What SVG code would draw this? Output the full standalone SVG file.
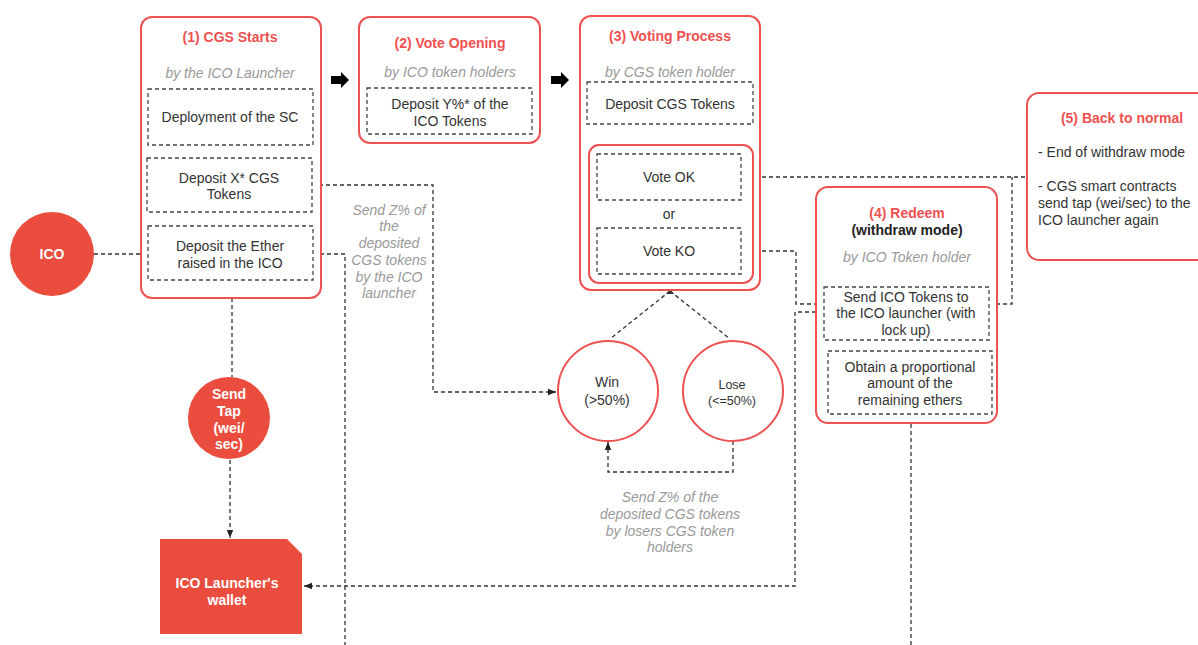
<svg xmlns="http://www.w3.org/2000/svg" width="1198" height="645" viewBox="0 0 1198 645">
<defs>
<marker id="ah" viewBox="0 0 10 10" refX="10" refY="5" markerWidth="8" markerHeight="8" markerUnits="userSpaceOnUse" orient="auto"><path d="M0,1 L10,5 L0,9 z" fill="#222"/></marker>
<style>
text{font-family:"Liberation Sans",Arial,sans-serif;font-size:14px;text-anchor:middle;fill:#333}
.frame{fill:#fff;stroke:#ef5050;stroke-width:2}
.dbox{fill:none;stroke:#444;stroke-width:1.3;stroke-dasharray:4,3}
.title{font-weight:bold;fill:#ef5050}
.sub{font-style:italic;fill:#999}
.wt{font-weight:bold;fill:#fff}
.conn{fill:none;stroke:#333;stroke-width:1.3;stroke-dasharray:4,3}
.red{fill:#ea4c3e}
.bl{text-anchor:start}
</style>
</defs>
<rect width="1198" height="645" fill="#fff"/>

<g id="connectors">
<path class="conn" d="M94,254 H148"/>
<path class="conn" d="M312,185 H433 V392 H556" marker-end="url(#ah)"/>
<path class="conn" d="M313,254 H345 V645"/>
<path class="conn" d="M232,298 V377"/>
<path class="conn" d="M230,460 V538" marker-end="url(#ah)"/>
<path class="conn" d="M670,291 L610,339"/>
<path class="conn" d="M670,291 L730,339"/>
<path class="conn" d="M733,441 V472 H608 V442" marker-end="url(#ah)"/>
<path class="conn" d="M741,177 H1027"/>
<path class="conn" d="M989,304 H1012 V177"/>
<path class="conn" d="M741,251 H796 V304 H823"/>
<path class="conn" d="M823,312 H795 V586 H304" marker-end="url(#ah)"/>
<path class="conn" d="M911,645 V415" marker-end="url(#ah)"/>
<polygon points="666,294 670,289 674,294" fill="#333"/>
<polygon points="331,76 341,76 341,72 349,80 341,88 341,84 331,84" fill="#000"/>
<polygon points="551,76 561,76 561,72 569,80 561,88 561,84 551,84" fill="#000"/>
</g>

<g id="ico">
<circle class="red" cx="52" cy="254" r="42"/>
<text class="wt" x="52" y="259">ICO</text>
</g>

<g id="step1">
<rect class="frame" x="141" y="17" width="180" height="281" rx="11"/>
<text class="title" x="230" y="42">(1) CGS Starts</text>
<text class="sub" x="230" y="78">by the ICO Launcher</text>
<rect class="dbox" x="148" y="89" width="165" height="56"/>
<text x="230" y="122">Deployment of the SC</text>
<rect class="dbox" x="147" y="158" width="165" height="54"/>
<text x="229" y="183">Deposit X* CGS</text>
<text x="229" y="199">Tokens</text>
<rect class="dbox" x="148" y="226" width="165" height="54"/>
<text x="230" y="251">Deposit the Ether</text>
<text x="230" y="268">raised in the ICO</text>
</g>

<g id="step2">
<rect class="frame" x="359" y="17" width="181" height="126" rx="11"/>
<text class="title" x="450" y="48">(2) Vote Opening</text>
<text class="sub" x="450" y="77">by ICO token holders</text>
<rect class="dbox" x="367" y="88" width="165" height="46"/>
<text x="450" y="109">Deposit Y%* of the</text>
<text x="450" y="126">ICO Tokens</text>
</g>

<g id="step3">
<rect class="frame" x="580" y="16" width="180" height="274" rx="11"/>
<text class="title" x="670" y="41">(3) Voting Process</text>
<text class="sub" x="670" y="77">by CGS token holder</text>
<rect class="dbox" x="587" y="82" width="166" height="42"/>
<text x="670" y="109">Deposit CGS Tokens</text>
<rect class="frame" x="589" y="145" width="164" height="138" rx="10"/>
<rect class="dbox" x="597" y="154" width="144" height="46"/>
<text x="669" y="182">Vote OK</text>
<text x="669" y="219">or</text>
<rect class="dbox" x="597" y="228" width="144" height="46"/>
<text x="669" y="256">Vote KO</text>
</g>

<g id="win">
<circle cx="608" cy="391" r="50" fill="#fff" stroke="#ef5050" stroke-width="2"/>
<text x="607" y="387">Win</text>
<text x="607" y="405">(&gt;50%)</text>
</g>
<g id="lose">
<circle cx="733" cy="391" r="50" fill="#fff" stroke="#ef5050" stroke-width="2"/>
<text x="732" y="389" style="font-size:12.5px">Lose</text>
<text x="732" y="405" style="font-size:12.5px">(&lt;=50%)</text>
</g>

<g id="label-z1">
<text class="sub" x="389" y="215">Send Z% of</text>
<text class="sub" x="389" y="231">the</text>
<text class="sub" x="389" y="248">deposited</text>
<text class="sub" x="389" y="265">CGS tokens</text>
<text class="sub" x="389" y="282">by the ICO</text>
<text class="sub" x="389" y="298">launcher</text>
</g>

<g id="label-z2">
<text class="sub" x="670" y="502">Send Z% of the</text>
<text class="sub" x="670" y="519">deposited CGS tokens</text>
<text class="sub" x="670" y="536">by losers CGS token</text>
<text class="sub" x="670" y="552">holders</text>
</g>

<g id="step4">
<rect class="frame" x="816" y="187" width="181" height="236" rx="12"/>
<text class="title" x="907" y="218">(4) Redeem</text>
<text x="907" y="235" style="font-weight:bold;fill:#222">(withdraw mode)</text>
<text class="sub" x="907" y="262">by ICO Token holder</text>
<rect class="dbox" x="824" y="287" width="165" height="53"/>
<text x="906" y="302">Send ICO Tokens to</text>
<text x="906" y="318">the ICO launcher (with</text>
<text x="906" y="335">lock up)</text>
<rect class="dbox" x="828" y="351" width="164" height="63"/>
<text x="910" y="372">Obtain a proportional</text>
<text x="910" y="388">amount of the</text>
<text x="910" y="405">remaining ethers</text>
</g>

<g id="step5">
<rect class="frame" x="1027" y="93" width="190" height="167" rx="12"/>
<text class="title" x="1122" y="123">(5) Back to normal</text>
<text class="bl" x="1038" y="157">- End of withdraw mode</text>
<text class="bl" x="1038" y="191">- CGS smart contracts</text>
<text class="bl" x="1038" y="208">send tap (wei/sec) to the</text>
<text class="bl" x="1038" y="225">ICO launcher again</text>
</g>

<g id="sendtap">
<circle class="red" cx="229" cy="418" r="41"/>
<text class="wt" x="229" y="399">Send</text>
<text class="wt" x="229" y="416">Tap</text>
<text class="wt" x="229" y="433">(wei/</text>
<text class="wt" x="229" y="449">sec)</text>
</g>

<g id="wallet">
<polygon class="red" points="160,539 287,539 302,554 302,634 160,634"/>
<text class="wt" x="227" y="588">ICO Launcher's</text>
<text class="wt" x="227" y="605">wallet</text>
</g>
</svg>
